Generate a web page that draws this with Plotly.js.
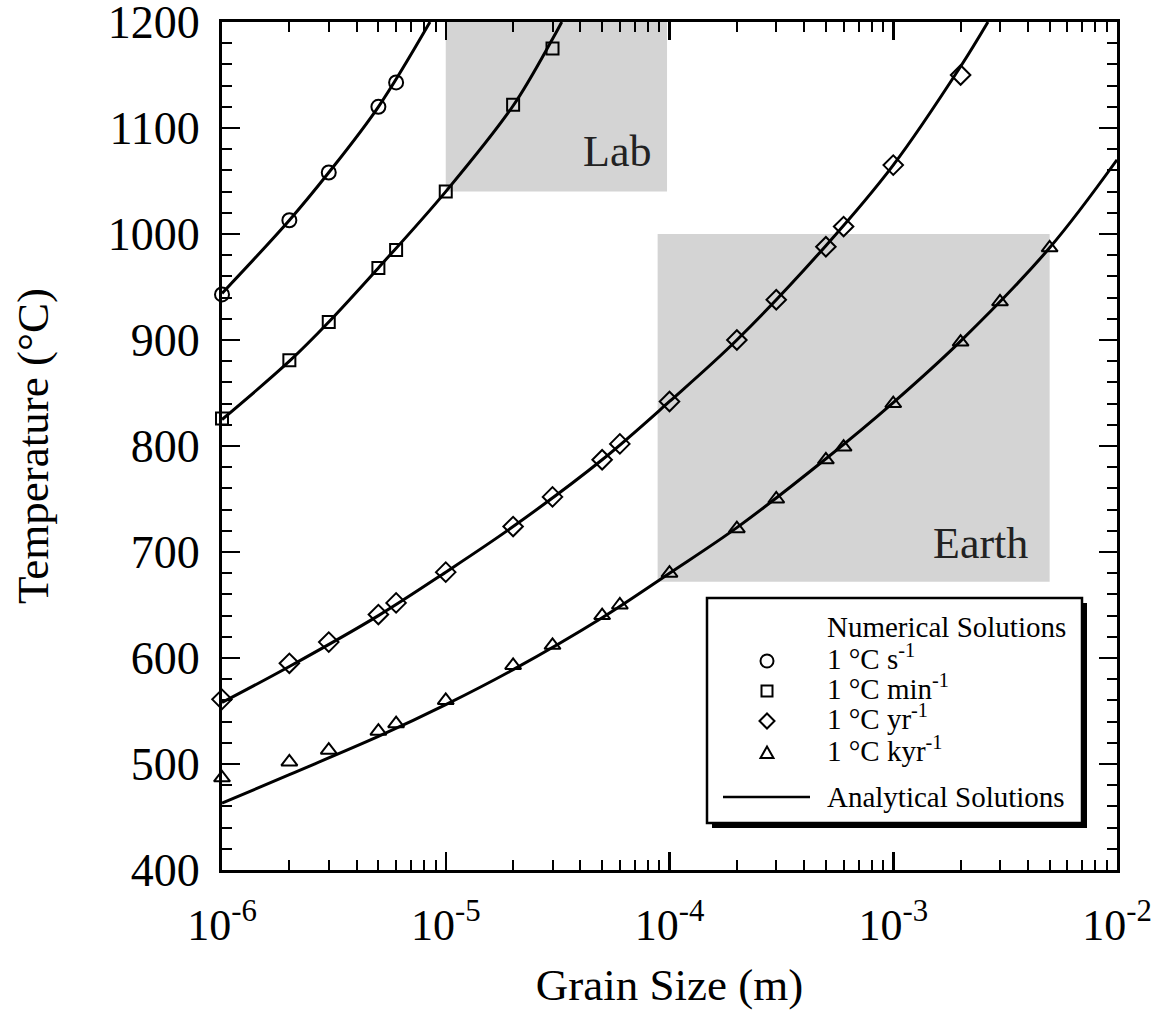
<!DOCTYPE html>
<html>
<head>
<meta charset="utf-8">
<script src="https://cdn.plot.ly/plotly-3.0.1.min.js"></script>
<style>html,body{margin:0;padding:0;background:#fff;}#chart{width:1159px;height:1022px;}</style>
</head>
<body>
<div id="chart"></div>
<script>
// ---- Data ----
// Numerical solutions (markers)
const sX   = [1e-6, 2e-6, 3e-6, 5e-6, 6e-6];
const sT   = [943, 1013, 1058, 1120, 1143];
const minX = [1e-6, 2e-6, 3e-6, 5e-6, 6e-6, 1e-5, 2e-5, 3e-5];
const minT = [826, 881, 917, 968, 985, 1040, 1122, 1175];
const yrX  = [1e-6, 2e-6, 3e-6, 5e-6, 6e-6, 1e-5, 2e-5, 3e-5, 5e-5, 6e-5, 1e-4, 2e-4, 3e-4, 5e-4, 6e-4, 1e-3, 2e-3];
const yrT  = [561, 595, 615, 641, 652, 681, 724, 752, 787, 802, 842, 900, 938, 988, 1007, 1065, 1150];
const kyrX = [1e-6, 2e-6, 3e-6, 5e-6, 6e-6, 1e-5, 2e-5, 3e-5, 5e-5, 6e-5, 1e-4, 2e-4, 3e-4, 5e-4, 6e-4, 1e-3, 2e-3, 3e-3, 5e-3];
const kyrT = [487, 502, 513, 531, 538, 560, 593, 612, 640, 650, 680, 722, 750, 787, 799, 840, 898, 936, 987];

// Analytical solutions (lines)
const lineSX   = [1e-6, 2e-6, 3e-6, 5e-6, 8.5e-6];
const lineST   = [944, 1013, 1058, 1120, 1200];
const lineMinX = [1e-6, 2e-6, 3e-6, 5e-6, 1e-5, 2e-5, 3e-5, 3.3e-5];
const lineMinT = [825, 880, 917, 968, 1040, 1121, 1184, 1200];
const lineYrX  = [1e-6, 2e-6, 5e-6, 1e-5, 2e-5, 5e-5, 1e-4, 2e-4, 5e-4, 1e-3, 2e-3, 2.65e-3];
const lineYrT  = [558, 592, 640, 681, 724, 787, 842, 900, 989, 1065, 1158, 1200];
const lineKyrX = [1e-6, 2e-6, 5e-6, 1e-5, 2e-5, 5e-5, 1e-4, 2e-4, 5e-4, 1e-3, 2e-3, 5e-3, 1e-2];
const lineKyrT = [463, 490, 526, 556, 589, 638, 680, 723, 788, 841, 899, 987, 1070];

// Shaded regions (grain size range, temperature range)
const labX   = [1e-5, 9.75e-5];
const labT   = [1040, 1200];
const earthX = [8.85e-5, 5e-3];
const earthT = [672, 1000];

// Names and tick labels
const seriesNames = ['1 °C s<sup>-1</sup>', '1 °C min<sup>-1</sup>', '1 °C yr<sup>-1</sup>', '1 °C kyr<sup>-1</sup>'];
const legendHeader = 'Numerical Solutions';
const lineName = 'Analytical Solutions';
const yTickVals  = [400, 500, 600, 700, 800, 900, 1000, 1100, 1200];
const xTickVals  = [1e-6, 1e-5, 1e-4, 1e-3, 1e-2];
const xTickText  = ['10<sup>-6</sup>', '10<sup>-5</sup>', '10<sup>-4</sup>', '10<sup>-3</sup>', '10<sup>-2</sup>'];
const xMinorVals = [];
[1e-6, 1e-5, 1e-4, 1e-3].forEach(d => { for (let k = 2; k <= 9; k++) xMinorVals.push(d * k); });

// ---- Geometry helpers (pixel -> paper) ----
const W = 1159, H = 1022, ML = 222, MR = 42, MT = 22, MB = 152;
const PW = W - ML - MR, PH = H - MT - MB;
const px = v => (v - ML) / PW;
const py = v => (H - MB - v) / PH;

const FONT = 'Liberation Serif, Times New Roman, serif';

// ---- Traces ----
const markerSpecs = [
  {x: sX, y: sT, sym: 'circle-open', size: 14},
  {x: minX, y: minT, sym: 'square-open', size: 12},
  {x: yrX, y: yrT, sym: 'diamond-open', size: 15},
  {x: kyrX, y: kyrT, sym: 'triangle-up-open', size: 14}
];
const traces = [];
const lineSets = [[lineSX, lineST], [lineMinX, lineMinT], [lineYrX, lineYrT], [lineKyrX, lineKyrT]];
lineSets.forEach((l, i) => {
  traces.push({
    x: l[0], y: l[1], type: 'scatter', mode: 'lines', name: lineName, showlegend: false,
    line: {color: 'black', width: 3, shape: 'spline', smoothing: 1}
  });
});
markerSpecs.forEach((m, i) => {
  traces.push({
    x: m.x, y: m.y, type: 'scatter', mode: 'markers', name: seriesNames[i], showlegend: false,
    cliponaxis: false,
    marker: {symbol: m.sym, size: m.size, color: 'black', line: {color: 'black', width: 2}}
  });
});

// ---- Legend drawn as shapes + annotations ----
const legBox = {l: 707, r: 1082, t: 598, b: 823};
const shadow = 5;
const symX = 767, textX = 825;
const rowY = [661, 691, 721, 753];
const shapes = [
  {type: 'rect', xref: 'x', yref: 'y', x0: labX[0], x1: labX[1], y0: labT[0], y1: labT[1],
   fillcolor: '#d4d4d4', line: {width: 0}, layer: 'below'},
  {type: 'rect', xref: 'x', yref: 'y', x0: earthX[0], x1: earthX[1], y0: earthT[0], y1: earthT[1],
   fillcolor: '#d4d4d4', line: {width: 0}, layer: 'below'},
  {type: 'rect', xref: 'paper', yref: 'paper', layer: 'above',
   x0: px(legBox.l + shadow), x1: px(legBox.r + shadow), y0: py(legBox.b + shadow), y1: py(legBox.t + shadow),
   fillcolor: 'black', line: {width: 0}},
  {type: 'rect', xref: 'paper', yref: 'paper', layer: 'above',
   x0: px(legBox.l), x1: px(legBox.r), y0: py(legBox.b), y1: py(legBox.t),
   fillcolor: 'white', line: {color: 'black', width: 2.5}},
  // legend symbols
  {type: 'circle', xref: 'paper', yref: 'paper', layer: 'above', xsizemode: 'pixel', ysizemode: 'pixel',
   xanchor: px(symX), yanchor: py(rowY[0]), x0: -6.5, x1: 6.5, y0: -6.5, y1: 6.5,
   line: {color: 'black', width: 2}},
  {type: 'rect', xref: 'paper', yref: 'paper', layer: 'above', xsizemode: 'pixel', ysizemode: 'pixel',
   xanchor: px(symX), yanchor: py(rowY[1]), x0: -5.5, x1: 5.5, y0: -5.5, y1: 5.5,
   line: {color: 'black', width: 2}},
  {type: 'path', xref: 'paper', yref: 'paper', layer: 'above', xsizemode: 'pixel', ysizemode: 'pixel',
   xanchor: px(symX), yanchor: py(rowY[2]), path: 'M-7.5,0 L0,7.5 L7.5,0 L0,-7.5 Z',
   line: {color: 'black', width: 2}},
  {type: 'path', xref: 'paper', yref: 'paper', layer: 'above', xsizemode: 'pixel', ysizemode: 'pixel',
   xanchor: px(symX), yanchor: py(rowY[3]), path: 'M-6.5,-5 L6.5,-5 L0,6.5 Z',
   line: {color: 'black', width: 2}},
  {type: 'line', xref: 'paper', yref: 'paper', layer: 'above',
   x0: px(723), x1: px(810), y0: py(797), y1: py(797), line: {color: 'black', width: 2.5}}
];

const legFont = {family: FONT, size: 29, color: 'black'};
const annotations = [
  {xref: 'x', yref: 'y', x: Math.log10(labX[1]), y: 1078, text: 'Lab', showarrow: false,
   xanchor: 'right', xshift: -14, font: {family: FONT, size: 44, color: '#222'}},
  {xref: 'x', yref: 'y', x: Math.log10(earthX[1]), y: 708, text: 'Earth', showarrow: false,
   xanchor: 'right', xshift: -20, font: {family: FONT, size: 44, color: '#222'}},
  {xref: 'paper', yref: 'paper', x: px(textX), y: py(627), xanchor: 'left', yanchor: 'middle',
   text: legendHeader, showarrow: false, font: legFont},
  {xref: 'paper', yref: 'paper', x: px(textX), y: py(797), xanchor: 'left', yanchor: 'middle',
   text: lineName, showarrow: false, font: legFont}
];
seriesNames.forEach((n, i) => {
  annotations.push({xref: 'paper', yref: 'paper', x: px(textX), y: py(rowY[i] - 4), xanchor: 'left', yanchor: 'middle',
    text: n, showarrow: false, font: legFont});
});

const layout = {
  width: W, height: H,
  margin: {l: ML, r: MR, t: MT, b: MB},
  paper_bgcolor: 'white', plot_bgcolor: 'white',
  font: {family: FONT, color: 'black', size: 44},
  showlegend: false,
  xaxis: {
    type: 'log', range: [-6, -2],
    tickvals: xTickVals, ticktext: xTickText,
    ticks: 'inside', ticklen: 18, tickwidth: 2.5, tickcolor: 'black',
    minor: {tickvals: xMinorVals, ticks: 'inside', ticklen: 10, tickwidth: 2, tickcolor: 'black', showgrid: false},
    showline: true, linewidth: 3, linecolor: 'black', mirror: 'allticks',
    showgrid: false, zeroline: false, ticklabeloverflow: 'allow',
    tickfont: {family: FONT, size: 44},
    ticklabelstandoff: 14,
    title: {text: 'Grain Size (m)', font: {family: FONT, size: 45}, standoff: 20}
  },
  yaxis: {
    range: [400, 1200], tickmode: 'array', tickvals: yTickVals,
    ticks: 'inside', ticklen: 18, tickwidth: 2.5, tickcolor: 'black',
    minor: {dtick: 20, ticks: 'inside', ticklen: 10, tickwidth: 2, tickcolor: 'black', showgrid: false},
    showline: true, linewidth: 3, linecolor: 'black', mirror: 'allticks',
    showgrid: false, zeroline: false, ticklabeloverflow: 'allow',
    tickfont: {family: FONT, size: 46},
    ticklabelstandoff: 10,
    title: {text: 'Temperature (°C)', font: {family: FONT, size: 45}, standoff: 46}
  },
  shapes: shapes,
  annotations: annotations
};

Plotly.newPlot('chart', traces, layout, {displayModeBar: false, staticPlot: true});
</script>
</body>
</html>
